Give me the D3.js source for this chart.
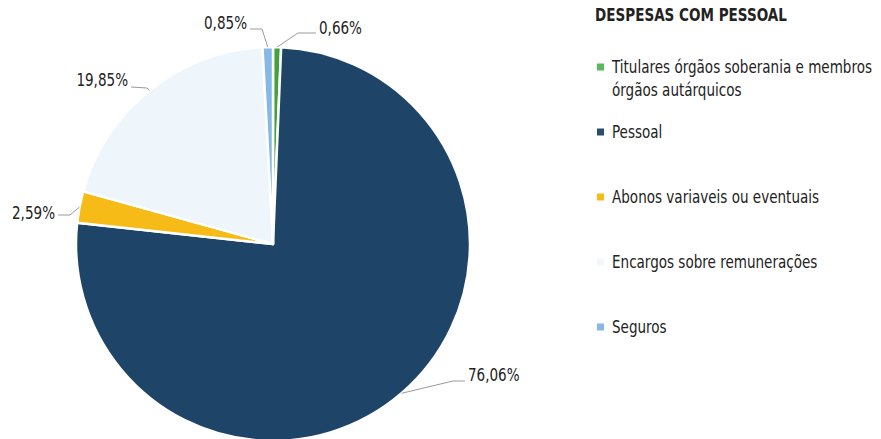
<!DOCTYPE html>
<html>
<head>
<meta charset="utf-8">
<script src="https://cdn.jsdelivr.net/npm/d3@7"></script>
<style>
  html, body { margin: 0; padding: 0; background: #ffffff; }
  svg { display: block; }
  text { font-family: "DejaVu Sans Condensed", "DejaVu Sans", sans-serif; fill: #222; }
</style>
</head>
<body>
<svg id="chart" width="881" height="439"></svg>
<script>
// Despesas com pessoal — share of each expense category (%)
const categories = [
  "Titulares órgãos soberania e membros órgãos autárquicos",
  "Pessoal",
  "Abonos variaveis ou eventuais",
  "Encargos sobre remunerações",
  "Seguros"
];
const values = [0.66, 76.06, 2.59, 19.85, 0.85];
const valueLabels = ["0,66%", "76,06%", "2,59%", "19,85%", "0,85%"];
const legendLines = [
  ["Titulares órgãos soberania e membros", "órgãos autárquicos"],
  ["Pessoal"],
  ["Abonos variaveis ou eventuais"],
  ["Encargos sobre remunerações"],
  ["Seguros"]
];
const colors = ["#43a23f", "#1e4568", "#f6bb16", "#eef5fb", "#86b8e6"];
const legendColors = ["#5cb85c", "#2a4d6e", "#f6bb16", "#f4f7fa", "#86b8e6"];
const title = "DESPESAS COM PESSOAL";

const svg = d3.select("#chart");
const cx = 273, cy = 244, radius = 197;
const narrow = 0.86; // horizontal squeeze for a condensed look

// Text helper: places a narrowed label at (x, y)
function label(x, y, str, opts = {}) {
  return svg.append("text")
    .attr("transform", `translate(${x},${y}) scale(${narrow},1)`)
    .attr("text-anchor", opts.anchor || "start")
    .attr("dominant-baseline", "central")
    .attr("font-size", opts.size || 17.5)
    .attr("font-weight", opts.weight || "normal")
    .text(str);
}

const pie = d3.pie().sort(null).value(d => d)(values);
const arc = d3.arc().innerRadius(0).outerRadius(radius);

const g = svg.append("g").attr("transform", `translate(${cx},${cy})`);

g.selectAll("path.slice")
  .data(pie)
  .join("path")
  .attr("class", "slice")
  .attr("d", arc)
  .attr("fill", (d, i) => colors[i])
  .attr("stroke", "#ffffff")
  .attr("stroke-width", 2.5)
  .attr("stroke-linejoin", "round");

// Leader lines: from the slice edge to an elbow, then across to the label
const labelLayout = [
  { elbow: [298, 33], end: [316, 33], text: [319, 28], anchor: "start" },
  { elbow: [453, 381], end: [465, 381], text: [468, 375], anchor: "start" },
  { elbow: [70, 215], end: [58, 215], text: [55, 213], anchor: "end" },
  { elbow: [147, 88], end: [131, 87], text: [128, 80], anchor: "end" },
  { elbow: [262, 29], end: [250, 29], text: [247, 23], anchor: "end" }
];

const edge = d3.arc().innerRadius(radius).outerRadius(radius);

pie.forEach((d, i) => {
  const [ex, ey] = edge.centroid(d);
  const L = labelLayout[i];
  svg.append("path")
    .attr("d", d3.line()([[cx + ex, cy + ey], L.elbow, L.end]))
    .attr("fill", "none")
    .attr("stroke", "#9a9a9a")
    .attr("stroke-width", 1);
  label(L.text[0], L.text[1], valueLabels[i], { anchor: L.anchor });
});

// Legend
label(595, 15, title, { weight: "bold" });

const legendY = d3.scalePoint().domain(d3.range(categories.length)).range([67, 327]);

categories.forEach((c, i) => {
  const y = i === 0 ? 67 : legendY(i);
  svg.append("rect")
    .attr("x", 597)
    .attr("y", y - 3.5)
    .attr("width", 7)
    .attr("height", 7)
    .attr("fill", legendColors[i]);
  legendLines[i].forEach((line, j) => {
    label(612, y + j * 23, line);
  });
});
</script>
</body>
</html>
